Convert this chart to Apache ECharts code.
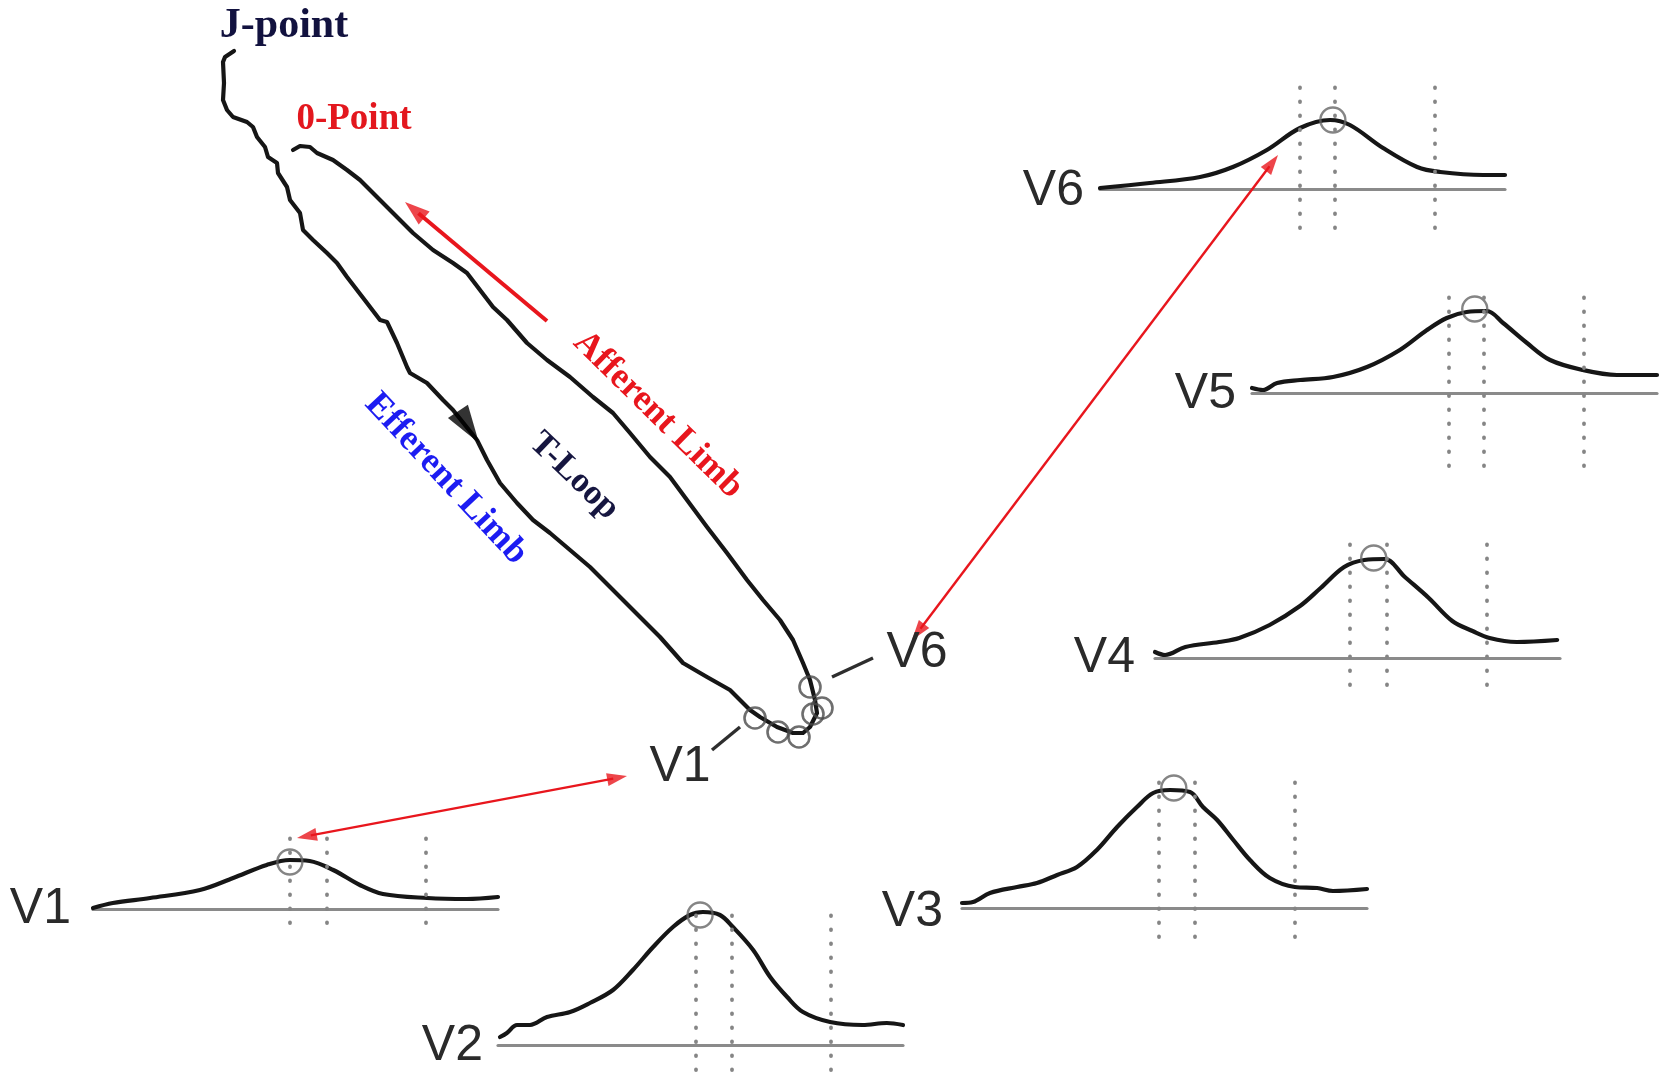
<!DOCTYPE html>
<html>
<head>
<meta charset="utf-8">
<script src="https://cdn.jsdelivr.net/npm/echarts@6/dist/echarts.min.js"></script>
<style>
  html, body { margin: 0; padding: 0; background: #ffffff; }
  #chart { width: 1660px; height: 1073px; }
</style>
</head>
<body>
<div id="chart"></div>
<script>
// ---------------------------------------------------------------
// Precordial T waves (time in % of the window, amplitude in a.u.)
// ---------------------------------------------------------------
const leadNames = ['V1', 'V2', 'V3', 'V4', 'V5', 'V6'];

const v1Wave = [[0,1],[4.9,6],[14.1,11],[26.4,19],[34.6,31],[42.9,44],[48.6,49],[53.5,48],[59.3,39],[65.9,24],[71.6,15],[82.5,11],[92.3,10],[100,12]];
const v2Wave = [[0.5,8],[2.2,12],[4.7,20],[7.9,20],[12.1,28],[17.8,33],[22.7,42],[28.4,55],[33.3,75],[38.3,98],[43.2,118],[47.4,130],[50.6,133],[54.8,130],[58,118],[63,95],[67.2,68],[71.4,48],[75.3,33],[82,23],[90,20],[96,22],[100,20]];
const v3Wave = [[0,5],[2.7,6],[6.9,15],[13.6,21],[18.5,25],[23.5,33],[28.4,41],[33.3,58],[38.3,81],[43.2,101],[47.2,115],[51.4,118],[56.3,116],[59.5,101],[63,88],[67,68],[71.1,48],[76,30],[82.2,21],[87.7,20],[91.6,17],[100,19]];
const v4Wave = [[0,6],[2.5,3],[7.5,11],[15.8,16],[20.8,20],[28.3,33],[35.8,52],[40.9,70],[46.7,91],[51.7,98],[56.7,99],[61.7,81],[67.6,60],[73.4,37],[78.4,27],[82.6,20],[89.3,16],[99.3,18]];
const v5Wave = [[0,5],[2.7,3],[6.2,10],[11.9,13],[20,16],[28.4,26],[36.5,43],[43.2,63],[48.1,75],[53,81],[58,82],[62,70],[67.9,50],[73.6,33],[81.7,23],[90.1,18],[100,18]];
const v6Wave = [[0,1],[12.3,6],[24.7,12],[32.8,22],[41.2,39],[49.4,61],[56.8,69],[61.7,64],[69.9,41],[78.3,22],[84,17],[94.6,14],[100,14]];

// circled T-peak of each lead
const peakTime = [48.6, 49.9, 52.3, 54.0, 55.0, 57.5];
const peakAmp  = [47, 130, 120, 100, 84, 69];

// dotted reference instants in each lead
const v1Marks = [48.6, 57.8, 82.2];
const v2Marks = [48.9, 57.8, 82.2];
const v3Marks = [48.6, 57.5, 82.2];
const v4Marks = [48.2, 57.1, 81.8];
const v5Marks = [48.6, 57.3, 82.0];
const v6Marks = [49.4, 58.0, 82.7];

// ---------------------------------------------------------------
// Vectorcardiographic T loop (frontal-plane units)
// ---------------------------------------------------------------
const efferentLimb = [[234,51],[225,57],[223,62],[224,83],[223,100],[227,110],[233,117],[247,122],[253,127],[257,137],[265,147],[268,157],[277,163],[278,173],[287,187],[290,200],[300,213],[303,230],[313,240],[327,253],[337,263],[347,277],[357,290],[367,303],[380,320],[387,322],[397,343],[407,367],[410,373],[427,383],[443,400],[453,410],[477,440],[487,460],[500,483],[517,503],[533,520],[550,533],[570,550],[590,567],[610,587],[623,600],[640,617],[660,637],[683,663],[707,677],[730,690],[750,710],[760,717],[777,727],[793,733],[803,733],[810,727],[817,713]];
const afferentLimb = [[817,713],[815,700],[810,680],[803,663],[793,640],[780,620],[763,600],[747,580],[727,553],[707,527],[687,500],[670,477],[650,457],[630,433],[613,413],[593,397],[570,377],[547,360],[527,343],[507,320],[493,307],[480,290],[467,273],[453,263],[433,250],[413,233],[400,220],[390,210],[377,197],[360,180],[347,170],[333,160],[317,153],[310,147],[300,146],[293,150]];
// loop instants that correspond to the circled peaks V1..V6
const loopLeadPoints = [[755,718],[778,732],[799,737],[813,714],[822,708],[810,687]];

// ---------------------------------------------------------------
// Layout
// ---------------------------------------------------------------
const waves = [v1Wave, v2Wave, v3Wave, v4Wave, v5Wave, v6Wave];
const marks = [v1Marks, v2Marks, v3Marks, v4Marks, v5Marks, v6Marks];

const panelWidth = 405;
const panelLayout = [
  { left: 93,   base: 909,  top: 830, bottom: 923,  labelRight: 71,   labelY: 909 },
  { left: 498,  base: 1045, top: 908, bottom: 1070, labelRight: 483,  labelY: 1046 },
  { left: 962,  base: 908,  top: 773, bottom: 937,  labelRight: 943,  labelY: 912 },
  { left: 1155, base: 658,  top: 543, bottom: 685,  labelRight: 1135, labelY: 658 },
  { left: 1252, base: 393,  top: 287, bottom: 466,  labelRight: 1236, labelY: 394 },
  { left: 1100, base: 189,  top: 87,  bottom: 228,  labelRight: 1084, labelY: 191 }
];

const RED = '#e8161d';
const INK = '#161616';

// annotation arrows in the loop plane
const arrowDefs = [
  { from: [547, 321], to: [405, 202], both: false, width: 4, head: [17, 25] },
  { from: [912, 640], to: [1278, 155], both: true, width: 2.4, head: [13, 20] },
  { from: [627, 776], to: [297, 838], both: true, width: 2.4, head: [13, 20] }
];
const triPath = 'path://M50,0 L100,100 L0,100 Z';

function arrowHead(tip, from, size) {
  const dx = tip[0] - from[0], dy = tip[1] - from[1];
  const L = Math.hypot(dx, dy), ux = dx / L, uy = dy / L;
  return {
    value: [tip[0] - ux * size[1] / 2, tip[1] - uy * size[1] / 2],
    symbolSize: size,
    symbolRotate: Math.atan2(-dy, dx) * 180 / Math.PI - 90
  };
}
function shaftEnd(tip, from, len) {
  const dx = tip[0] - from[0], dy = tip[1] - from[1];
  const L = Math.hypot(dx, dy);
  return [tip[0] - dx / L * len, tip[1] - dy / L * len];
}

const grids = [{ left: 0, top: 0, width: 1660, height: 1073 }];
const xAxes = [{ gridIndex: 0, type: 'value', min: 0, max: 1660, show: false }];
const yAxes = [{ gridIndex: 0, type: 'value', min: 0, max: 1073, inverse: true, show: false }];
const series = [];

// T loop trace
series.push({
  type: 'line', xAxisIndex: 0, yAxisIndex: 0, z: 3,
  data: efferentLimb.concat(afferentLimb.slice(1)),
  showSymbol: false, smooth: false, silent: true, clip: false,
  lineStyle: { color: INK, width: 4.2, join: 'round', cap: 'round' }
});
// lead instants on the loop
series.push({
  type: 'scatter', xAxisIndex: 0, yAxisIndex: 0, z: 4, silent: true,
  data: loopLeadPoints, symbol: 'circle', symbolSize: 21,
  itemStyle: { color: 'rgba(0,0,0,0)', borderColor: '#4a4a4a', borderWidth: 2.6 }
});
// direction arrowhead on the efferent limb
series.push({
  type: 'scatter', xAxisIndex: 0, yAxisIndex: 0, z: 5, silent: true,
  symbol: triPath,
  data: [arrowHead([479, 443], [457, 410], [24, 38])],
  itemStyle: { color: '#000' }
});

// annotation arrows
const heads = [];
arrowDefs.forEach(a => {
  const end = shaftEnd(a.to, a.from, a.head[1] * 0.7);
  const start = a.both ? shaftEnd(a.from, a.to, a.head[1] * 0.7) : a.from;
  series.push({
    type: 'line', xAxisIndex: 0, yAxisIndex: 0, z: 6, silent: true, clip: false,
    data: [start, end], showSymbol: false,
    lineStyle: { color: RED, width: a.width }
  });
  heads.push(arrowHead(a.to, a.from, a.head));
  if (a.both) heads.push(arrowHead(a.from, a.to, a.head));
});
series.push({
  type: 'scatter', xAxisIndex: 0, yAxisIndex: 0, z: 7, silent: true,
  symbol: triPath, data: heads, itemStyle: { color: RED }
});

// leader ticks next to the V1 / V6 loop labels
series.push({
  type: 'lines', coordinateSystem: 'cartesian2d', xAxisIndex: 0, yAxisIndex: 0, z: 4, silent: true,
  data: [{ coords: [[712, 750], [740, 727]] }, { coords: [[832, 677], [873, 658]] }],
  lineStyle: { color: '#2e2e2e', width: 3.4, opacity: 1 }
});

// lead panels
panelLayout.forEach((p, i) => {
  const gi = i + 1;
  grids.push({ left: p.left, top: p.top, width: panelWidth, height: p.bottom - p.top });
  xAxes.push({
    gridIndex: gi, type: 'value', min: 0, max: 100,
    axisLine: { show: true, onZero: true, lineStyle: { color: '#8a8a8a', width: 3.2 } },
    axisTick: { show: false }, axisLabel: { show: false }, splitLine: { show: false }
  });
  yAxes.push({
    gridIndex: gi, type: 'value', min: -(p.bottom - p.base), max: p.base - p.top,
    show: false, splitLine: { show: false }
  });
  // dotted reference instants
  series.push({
    type: 'line', xAxisIndex: gi, yAxisIndex: gi, z: 2, silent: true, data: [],
    markLine: {
      silent: true, symbol: ['none', 'none'], label: { show: false },
      animation: false,
      lineStyle: { color: '#858585', width: 3.8, type: [0.5, 13.5], cap: 'round' },
      emphasis: { disabled: true },
      data: marks[i].map(t => ({ xAxis: t }))
    }
  });
  // T wave
  series.push({
    type: 'line', xAxisIndex: gi, yAxisIndex: gi, z: 3, silent: true,
    data: waves[i], showSymbol: false, smooth: 0.35,
    lineStyle: { color: INK, width: 4.2, join: 'round', cap: 'round' }
  });
  // circled peak
  series.push({
    type: 'scatter', xAxisIndex: gi, yAxisIndex: gi, z: 4, silent: true,
    data: [[peakTime[i], peakAmp[i]]], symbol: 'circle', symbolSize: 25, clip: false,
    itemStyle: { color: 'rgba(0,0,0,0)', borderColor: '#666', borderWidth: 2.4 }
  });
});

// text
const sans = '"Liberation Sans", Arial, sans-serif';
const serif = '"Liberation Serif", "Times New Roman", serif';
const graphics = panelLayout.map((p, i) => ({
  type: 'text', x: p.labelRight, y: p.labelY, z: 10,
  style: { text: leadNames[i], fontSize: 50, fontFamily: sans, fill: '#2a2a2a', align: 'right', verticalAlign: 'middle' }
}));
function label(text, x, y, deg, size, color) {
  return {
    type: 'text', x, y, rotation: -deg * Math.PI / 180, z: 10,
    style: { text, fontSize: size, fontWeight: 'bold', fontFamily: serif, fill: color, align: 'center', verticalAlign: 'middle' }
  };
}
graphics.push(
  { type: 'text', x: 680, y: 767, z: 10, style: { text: 'V1', fontSize: 50, fontFamily: sans, fill: '#2a2a2a', align: 'center', verticalAlign: 'middle' } },
  { type: 'text', x: 917, y: 653, z: 10, style: { text: 'V6', fontSize: 50, fontFamily: sans, fill: '#2a2a2a', align: 'center', verticalAlign: 'middle' } },
  label('J-point', 284, 26, 0, 42, '#12123f'),
  label('0-Point', 354, 119, 0, 37, '#e3171e'),
  label('Afferent Limb', 658, 415, 44.5, 36, '#e8161d'),
  label('Efferent Limb', 446, 479, 47, 36, '#1c1cf2'),
  label('T-Loop', 574, 476, 44, 35, '#161640')
);

const chart = echarts.init(document.getElementById('chart'), null, { renderer: 'canvas' });
chart.setOption({
  animation: false,
  backgroundColor: '#ffffff',
  grid: grids,
  xAxis: xAxes,
  yAxis: yAxes,
  series: series,
  graphic: graphics
});
</script>
</body>
</html>
